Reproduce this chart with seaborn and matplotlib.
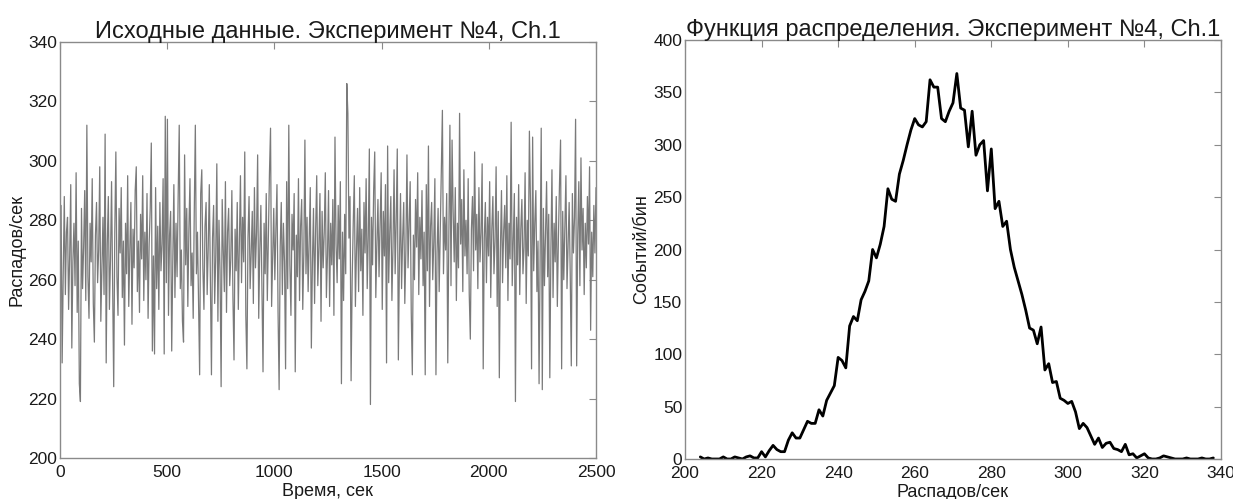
import numpy as np
import pandas as pd
import matplotlib
matplotlib.use("Agg")
import matplotlib.pyplot as plt
import seaborn as sns

# ---------------- data ----------------
rate_values = [
    270, 285, 232, 262, 288, 255, 276, 281, 250, 268, 292, 237, 266, 279, 258, 296, 249, 273, 225, 219,
    284, 257, 271, 290, 253, 312, 261, 247, 279, 266, 294, 252, 239, 275, 286, 259, 270, 298, 246, 264,
    281, 255, 309, 232, 272, 288, 250, 267, 293, 258, 224, 276, 303, 261, 248, 284, 269, 291, 254, 273,
    238, 279, 262, 295, 251, 270, 286, 245, 277, 264, 290, 298, 256, 273, 249, 282, 267, 295, 253, 276,
    260, 289, 247, 272, 284, 306, 236, 268, 235, 291, 257, 278, 250, 286, 263, 272, 294, 235, 315, 259,
    314, 248, 275, 283, 236, 266, 292, 254, 279, 261, 288, 312, 257, 270, 246, 239, 302, 265, 284, 251,
    277, 294, 258, 269, 247, 283, 312, 262, 276, 253, 228, 289, 297, 264, 250, 278, 286, 255, 271, 292,
    261, 228, 274, 285, 252, 268, 299, 246, 280, 263, 224, 287, 270, 256, 293, 249, 276, 284, 258, 267,
    290, 254, 233, 277, 263, 286, 250, 272, 295, 259, 281, 266, 303, 248, 230, 274, 288, 257, 269, 283,
    252, 291, 264, 276, 302, 247, 270, 285, 258, 229, 279, 262, 289, 253, 274, 296, 311, 251, 268, 284,
    260, 277, 292, 249, 223, 271, 286, 255, 279, 266, 230, 293, 257, 312, 265, 248, 282, 270, 289, 229,
    275, 261, 294, 253, 278, 287, 250, 269, 307, 262, 281, 256, 274, 291, 237, 266, 284, 252, 277, 295,
    258, 271, 289, 246, 283, 264, 276, 296, 254, 268, 290, 251, 279, 265, 287, 248, 308, 272, 259, 285,
    267, 293, 225, 276, 253, 282, 262, 326, 316, 274, 288, 226, 260, 279, 295, 251, 270, 284, 256, 291,
    263, 277, 248, 286, 269, 294, 257, 275, 304, 218, 281, 265, 290, 303, 254, 272, 287, 261, 278, 296,
    250, 283, 268, 292, 232, 305, 259, 276, 288, 253, 271, 297, 262, 280, 304, 233, 266, 289, 257, 274,
    286, 252, 270, 302, 264, 279, 293, 249, 228, 275, 260, 287, 271, 296, 255, 281, 267, 290, 258, 276,
    228, 292, 263, 305, 251, 278, 286, 260, 273, 294, 228, 269, 284, 256, 277, 299, 317, 262, 281, 270,
    289, 232, 275, 312, 258, 307, 283, 266, 291, 253, 279, 264, 316, 272, 287, 256, 297, 268, 280, 262,
    294, 255, 240, 277, 288, 263, 303, 270, 282, 257, 291, 266, 276, 299, 230, 274, 286, 259, 281, 268,
    293, 254, 277, 288, 262, 273, 298, 251, 283, 227, 270, 290, 259, 276, 285, 264, 295, 253, 279, 267,
    313, 258, 274, 289, 219, 281, 265, 292, 255, 277, 287, 262, 271, 296, 252, 280, 268, 310, 286, 230,
    308, 263, 279, 290, 256, 273, 225, 266, 311, 223, 284, 258, 276, 293, 261, 282, 227, 270, 297, 254,
    279, 266, 288, 251, 274, 292, 307, 230, 283, 260, 278, 295, 257, 271, 286, 262, 231, 289, 269, 281,
    314, 231, 275, 293, 258, 301, 270, 284, 255, 279, 264, 288, 272, 298, 243, 276, 261, 285, 269, 291,
]
time_start = 0
time_end = 2500

# Right panel: distribution (counts per bin)
bin_start = 204
bin_counts = [
    2, 0, 1, 0, 0, 0, 2, 0, 0, 2, 1, 0, 2, 3, 1, 1, 7, 2, 8, 13,
    9, 7, 7, 18, 25, 20, 20, 28, 36, 34, 34, 47, 41, 56, 63, 70, 97, 94, 87, 127,
    136, 132, 152, 160, 170, 200, 192, 205, 222, 258, 248, 246, 272, 285, 300, 314, 325, 319, 317, 322,
    362, 355, 355, 325, 322, 332, 340, 368, 335, 333, 298, 332, 290, 300, 304, 256, 296, 239, 246, 222,
    227, 200, 183, 170, 157, 142, 125, 123, 110, 126, 85, 91, 73, 74, 58, 56, 53, 55, 45, 29,
    34, 30, 22, 14, 20, 11, 15, 16, 10, 9, 7, 14, 4, 5, 1, 3, 5, 1, 0, 0,
    1, 3, 2, 1, 0, 0, 0, 1, 0, 0, 0, 1, 0, 0, 1,
]

left_title = "Исходные данные. Эксперимент №4, Ch.1"
left_xlabel = "Время, сек"
left_ylabel = "Распадов/сек"
right_title = "Функция распределения. Эксперимент №4, Ch.1"
right_xlabel = "Распадов/сек"
right_ylabel = "Событий/бин"

# ---------------- build frames ----------------
n = len(rate_values)
df_rate = pd.DataFrame({"t": np.linspace(time_start, time_end, n), "rate": rate_values})
df_hist = pd.DataFrame({"x": np.arange(bin_start, bin_start + len(bin_counts)), "count": bin_counts})

sns.set_style("white")
plt.rcParams["font.family"] = ["Liberation Sans", "DejaVu Sans"]
plt.rcParams["axes.edgecolor"] = "#8a8a8a"
plt.rcParams["axes.linewidth"] = 1.0

fig = plt.figure(figsize=(12.33, 4.99), dpi=100)
ax1 = fig.add_axes([60 / 1233, 41 / 499, (596 - 60) / 1233, (458 - 42) / 499])
ax2 = fig.add_axes([685 / 1233, 40 / 499, (1221 - 685) / 1233, (459 - 40) / 499])

sns.lineplot(data=df_rate, x="t", y="rate", ax=ax1, color="#7a7a7a",
             linewidth=0.9, estimator=None)
sns.lineplot(data=df_hist, x="x", y="count", ax=ax2, color="black",
             linewidth=2.0, estimator=None)

ax1.set_xlim(0, 2500)
ax1.set_ylim(200, 340)
ax1.set_xticks(np.arange(0, 2501, 500))
ax1.set_yticks(np.arange(200, 341, 20))

ax2.set_xlim(200, 340)
ax2.set_ylim(0, 400)
ax2.set_xticks(np.arange(200, 341, 20))
ax2.set_yticks(np.arange(0, 401, 50))

for ax, title, xl, yl in [(ax1, left_title, left_xlabel, left_ylabel),
                          (ax2, right_title, right_xlabel, right_ylabel)]:
    ax.set_title(title, fontsize=17, pad=3, color="#1a1a1a")
    ax.set_xlabel(xl, fontsize=13, labelpad=2, color="#1a1a1a")
    ax.set_ylabel(yl, fontsize=13, labelpad=2, color="#1a1a1a")
    ax.tick_params(direction="in", length=5, width=0.8, color="#8a8a8a",
                   top=True, right=True, labelsize=12.5, labelcolor="#1a1a1a", pad=2)
    ax.tick_params(axis="x", pad=5)
    for s in ax.spines.values():
        s.set_visible(True)
        s.set_color("#8a8a8a")

fig.savefig("out.png", dpi=100)
